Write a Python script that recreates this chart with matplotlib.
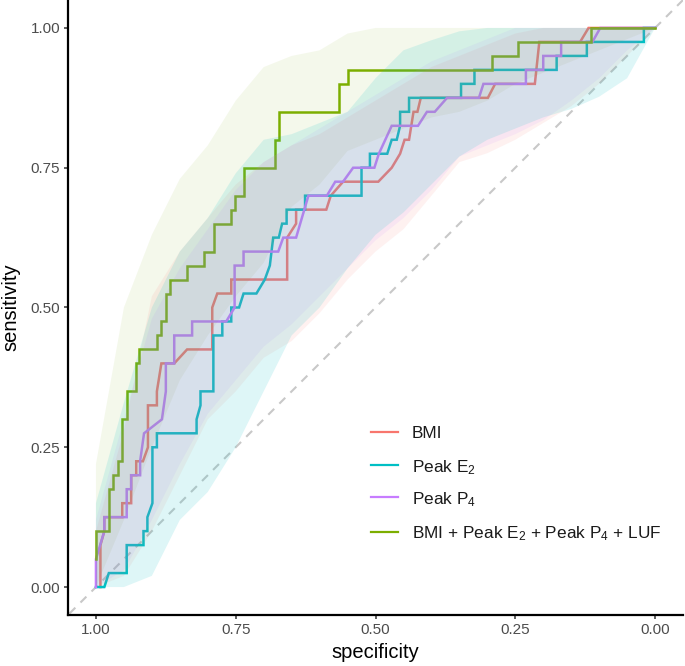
import matplotlib
matplotlib.use('Agg')
import matplotlib.pyplot as plt
from matplotlib.lines import Line2D

plt.rcParams['font.family'] = ['Liberation Sans', 'DejaVu Sans']
plt.rcParams['mathtext.fontset'] = 'custom'
plt.rcParams['mathtext.rm'] = 'Liberation Sans'
plt.rcParams['mathtext.it'] = 'Liberation Sans:italic'
plt.rcParams['mathtext.bf'] = 'Liberation Sans:bold'

# ---------------- data ----------------
labels = ['BMI', 'Peak E$_2$', 'Peak P$_4$', 'BMI + Peak E$_2$ + Peak P$_4$ + LUF']
colors = ['#F8766D', '#00BFC4', '#C77CFF', '#7CAE00']

bmi_spec = [0.992, 0.992, 0.985, 0.985, 0.953, 0.953, 0.937, 0.937, 0.928, 0.928, 0.916, 0.907, 0.907,
            0.891, 0.891, 0.883, 0.860, 0.837, 0.792, 0.792, 0.783, 0.758, 0.758, 0.658, 0.658, 0.642,
            0.642, 0.588, 0.580, 0.558, 0.495, 0.471, 0.456, 0.448, 0.440, 0.432, 0.425, 0.419, 0.299,
            0.286, 0.215, 0.207, 0.134, 0.119, 0.0]
bmi_sens = [0.0, 0.075, 0.10, 0.125, 0.125, 0.15, 0.15, 0.20, 0.20, 0.225, 0.225, 0.25, 0.325,
            0.325, 0.35, 0.40, 0.40, 0.425, 0.425, 0.50, 0.525, 0.525, 0.55, 0.55, 0.625, 0.65,
            0.675, 0.675, 0.70, 0.725, 0.725, 0.75, 0.775, 0.80, 0.80, 0.85, 0.85, 0.875, 0.875,
            0.90, 0.90, 0.975, 0.975, 1.0, 1.0]

e2_spec = [1.0, 0.985, 0.977, 0.945, 0.945, 0.915, 0.915, 0.908, 0.908, 0.899, 0.899, 0.891, 0.891,
           0.820, 0.820, 0.813, 0.813, 0.790, 0.790, 0.774, 0.774, 0.758, 0.758, 0.744, 0.736, 0.713,
           0.698, 0.689, 0.683, 0.673, 0.667, 0.659, 0.659, 0.626, 0.626, 0.525, 0.525, 0.510, 0.510,
           0.479, 0.471, 0.462, 0.456, 0.456, 0.440, 0.440, 0.347, 0.347, 0.323, 0.323, 0.176, 0.176,
           0.122, 0.122, 0.020, 0.020, 0.0]
e2_sens = [0.0, 0.0, 0.025, 0.025, 0.075, 0.075, 0.10, 0.10, 0.125, 0.15, 0.25, 0.25, 0.275,
           0.275, 0.30, 0.325, 0.35, 0.35, 0.45, 0.45, 0.475, 0.475, 0.50, 0.50, 0.525, 0.525,
           0.55, 0.575, 0.625, 0.625, 0.65, 0.65, 0.675, 0.675, 0.70, 0.70, 0.75, 0.75, 0.775,
           0.775, 0.80, 0.80, 0.825, 0.85, 0.85, 0.875, 0.875, 0.90, 0.90, 0.925, 0.925, 0.95,
           0.95, 0.975, 0.975, 1.0, 1.0]

p4_spec = [1.0, 1.0, 0.985, 0.985, 0.945, 0.945, 0.937, 0.937, 0.921, 0.921, 0.914, 0.882, 0.875,
           0.875, 0.860, 0.860, 0.828, 0.828, 0.767, 0.752, 0.752, 0.736, 0.736, 0.674, 0.665, 0.642,
           0.620, 0.587, 0.572, 0.558, 0.540, 0.502, 0.494, 0.471, 0.424, 0.408, 0.394, 0.372, 0.315,
           0.307, 0.231, 0.231, 0.200, 0.200, 0.168, 0.168, 0.112, 0.098, 0.0]
p4_sens = [0.0, 0.05, 0.10, 0.125, 0.125, 0.175, 0.175, 0.20, 0.20, 0.225, 0.275, 0.30, 0.35,
           0.40, 0.40, 0.45, 0.45, 0.475, 0.475, 0.50, 0.575, 0.575, 0.60, 0.60, 0.625, 0.625,
           0.70, 0.70, 0.725, 0.725, 0.75, 0.75, 0.775, 0.825, 0.825, 0.85, 0.85, 0.875, 0.875,
           0.90, 0.90, 0.925, 0.925, 0.95, 0.95, 0.975, 0.975, 1.0, 1.0]

comb_spec = [1.0, 1.0, 0.977, 0.977, 0.969, 0.969, 0.961, 0.961, 0.953, 0.953, 0.945, 0.945, 0.929,
             0.929, 0.923, 0.923, 0.890, 0.890, 0.884, 0.884, 0.875, 0.875, 0.868, 0.868, 0.837,
             0.837, 0.806, 0.806, 0.789, 0.789, 0.758, 0.758, 0.752, 0.752, 0.736, 0.736, 0.680,
             0.680, 0.673, 0.673, 0.565, 0.565, 0.549, 0.549, 0.292, 0.292, 0.246, 0.246, 0.115,
             0.115, 0.0]
comb_sens = [0.05, 0.10, 0.10, 0.175, 0.175, 0.20, 0.20, 0.225, 0.225, 0.30, 0.30, 0.35, 0.35,
             0.40, 0.40, 0.425, 0.425, 0.45, 0.45, 0.475, 0.475, 0.525, 0.525, 0.55, 0.55,
             0.575, 0.575, 0.60, 0.60, 0.65, 0.65, 0.675, 0.675, 0.70, 0.70, 0.75, 0.75,
             0.80, 0.80, 0.85, 0.85, 0.90, 0.90, 0.925, 0.925, 0.95, 0.95, 0.975, 0.975,
             1.0, 1.0]

# confidence bands (sensitivity bounds on a specificity grid)
band_spec = [1.0, 0.95, 0.9, 0.85, 0.8, 0.75, 0.7, 0.65, 0.6, 0.55, 0.5, 0.45, 0.4, 0.35, 0.3,
             0.25, 0.2, 0.15, 0.1, 0.05, 0.0]
bmi_lo = [0.0, 0.02, 0.10, 0.20, 0.30, 0.35, 0.41, 0.44, 0.49, 0.55, 0.60, 0.64, 0.70, 0.76, 0.776,
          0.80, 0.83, 0.86, 0.90, 0.95, 1.0]
bmi_hi = [0.10, 0.28, 0.52, 0.60, 0.66, 0.72, 0.76, 0.79, 0.81, 0.84, 0.87, 0.90, 0.93, 0.95, 0.97,
          0.99, 1.0, 1.0, 1.0, 1.0, 1.0]
e2_lo = [0.0, 0.0, 0.02, 0.12, 0.17, 0.25, 0.35, 0.45, 0.50, 0.57, 0.63, 0.67, 0.72, 0.77, 0.80,
         0.82, 0.84, 0.855, 0.877, 0.91, 1.0]
e2_hi = [0.15, 0.33, 0.50, 0.60, 0.66, 0.74, 0.80, 0.81, 0.83, 0.85, 0.91, 0.96, 0.978, 0.994, 1.0,
         1.0, 1.0, 1.0, 1.0, 1.0, 1.0]
p4_lo = [0.0, 0.03, 0.12, 0.22, 0.31, 0.37, 0.43, 0.47, 0.52, 0.57, 0.62, 0.66, 0.71, 0.77, 0.79,
         0.81, 0.835, 0.87, 0.91, 0.96, 1.0]
p4_hi = [0.12, 0.30, 0.48, 0.57, 0.64, 0.71, 0.76, 0.79, 0.82, 0.85, 0.88, 0.91, 0.94, 0.96, 0.98,
         1.0, 1.0, 1.0, 1.0, 1.0, 1.0]
comb_lo = [0.0, 0.12, 0.25, 0.37, 0.45, 0.52, 0.58, 0.68, 0.72, 0.78, 0.80, 0.82, 0.84, 0.85, 0.87,
           0.90, 0.92, 0.94, 0.96, 0.98, 1.0]
comb_hi = [0.22, 0.50, 0.63, 0.73, 0.79, 0.87, 0.93, 0.95, 0.96, 0.99, 1.0, 1.0, 1.0, 1.0, 1.0,
           1.0, 1.0, 1.0, 1.0, 1.0, 1.0]

curves = [(bmi_spec, bmi_sens), (e2_spec, e2_sens), (p4_spec, p4_sens), (comb_spec, comb_sens)]
bands = [(bmi_lo, bmi_hi), (e2_lo, e2_hi), (p4_lo, p4_hi), (comb_lo, comb_hi)]
band_alpha = [0.10, 0.13, 0.10, 0.08]
band_order = [3, 0, 2, 1]  # drawing order of the shaded bands
x_ticks = [1.00, 0.75, 0.50, 0.25, 0.00]
y_ticks = [0.00, 0.25, 0.50, 0.75, 1.00]

# ---------------- figure ----------------
W, H = 685, 666
fig = plt.figure(figsize=(W / 100, H / 100), dpi=100)
ax = fig.add_axes([68 / W, 1 - 615 / H, 615 / W, 615 / H])

ax.axline((1, 0), (0, 1), color='#C8C8C8', lw=1.5, linestyle=(0, (4, 3.5)), zorder=1)

for (sp, se), c in zip(curves, colors):
    ax.plot(sp, se, color=c, lw=1.8, zorder=2, solid_joinstyle='miter')

for i in band_order:
    lo, hi = bands[i]
    xs = list(band_spec) + list(band_spec[::-1])
    ys = list(hi) + list(lo[::-1])
    ax.fill(xs, ys, color=colors[i], alpha=band_alpha[i], lw=0, zorder=3)

ax.set_xlim(1.05, -0.05)
ax.set_ylim(-0.05, 1.05)
ax.set_xticks(x_ticks)
ax.set_xticklabels([f'{v:.2f}' for v in x_ticks])
ax.set_yticks(y_ticks)
ax.set_yticklabels([f'{v:.2f}' for v in y_ticks])
ax.tick_params(axis='both', length=3, width=1.1, color='#333333', labelsize=11,
               labelcolor='#4D4D4D', pad=2.5)
for s in ['top', 'right']:
    ax.spines[s].set_visible(False)
for s in ['left', 'bottom']:
    ax.spines[s].set_linewidth(1.6)
    ax.spines[s].set_color('black')

fig.text(375.5 / W, 1 - 653 / H, 'specificity', ha='center', va='center', fontsize=14.5)
fig.text(11 / W, 1 - 307.5 / H, 'sensitivity', ha='center', va='center', rotation=90, fontsize=14.5)

# legend
rows = [431.7, 465, 497.3, 531.7]
for lab, c, yp in zip(labels, colors, rows):
    fig.add_artist(Line2D([371 / W, 398 / W], [1 - yp / H, 1 - yp / H], color=c, lw=1.6,
                          transform=fig.transFigure))
    fig.text(412 / W, 1 - yp / H, lab, ha='left', va='center_baseline', fontsize=12.4, color='#1A1A1A')

fig.savefig('out.png', dpi=100)
